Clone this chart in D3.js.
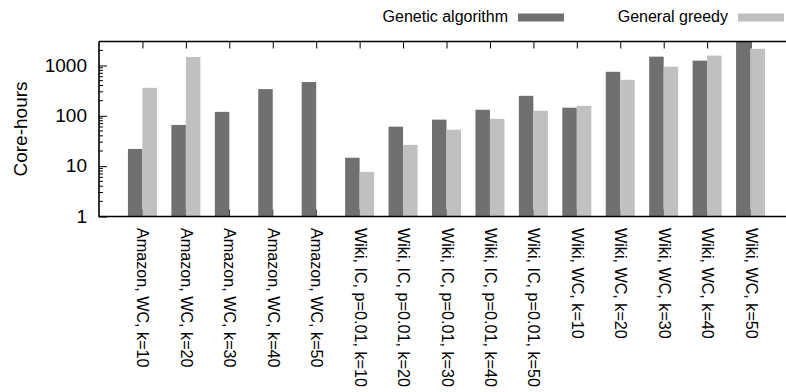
<!DOCTYPE html>
<html>
<head>
<meta charset="utf-8">
<script src="https://cdn.jsdelivr.net/npm/d3@7"></script>
<style>
  body { margin: 0; background: #fff; }
  svg { display: block; font-family: "Liberation Sans", Arial, Helvetica, sans-serif; }
</style>
</head>
<body>
<div id="chart"></div>
<script>
// categories along the x axis
const categories = [
  "Amazon, WC, k=10", "Amazon, WC, k=20", "Amazon, WC, k=30", "Amazon, WC, k=40", "Amazon, WC, k=50",
  "Wiki, IC, p=0.01, k=10", "Wiki, IC, p=0.01, k=20", "Wiki, IC, p=0.01, k=30",
  "Wiki, IC, p=0.01, k=40", "Wiki, IC, p=0.01, k=50",
  "Wiki, WC, k=10", "Wiki, WC, k=20", "Wiki, WC, k=30", "Wiki, WC, k=40", "Wiki, WC, k=50"
];
// core-hours
const geneticValues = [22, 66, 120, 340, 470, 14.7, 61, 84, 132, 250, 145, 750, 1500, 1250, 3200];
const greedyValues = [360, 1480, null, null, null, 7.7, 26.5, 53, 87, 126, 158, 520, 950, 1570, 2150];
const seriesNames = ["Genetic algorithm", "General greedy"];
const yTicks = [1, 10, 100, 1000];

const width = 786, height = 392;
const plotLeft = 99, plotTop = 41.5, plotBottom = 216.5;

const svg = d3.select('#chart').append('svg')
    .attr('width', width)
    .attr('height', height);

const x = d3.scaleLinear().domain([-1, categories.length]).range([plotLeft, 794]);
const y = d3.scaleLog().domain([1, 3000]).range([plotBottom, plotTop]).clamp(true);
const barW = 14.5;
const dark = '#707070', light = '#c0c0c0';

// bottom x ticks (under the bars)
svg.append('g').selectAll('line')
    .data(categories)
    .join('line')
    .attr('x1', (d, i) => x(i)).attr('x2', (d, i) => x(i))
    .attr('y1', plotBottom).attr('y2', plotBottom - 7)
    .attr('stroke', '#000').attr('stroke-width', 1);

// bars
svg.append('g').selectAll('rect')
    .data(geneticValues)
    .join('rect')
    .attr('x', (d, i) => x(i) - barW)
    .attr('y', d => y(d))
    .attr('width', barW)
    .attr('height', d => plotBottom - y(d))
    .attr('fill', dark);

svg.append('g').selectAll('rect')
    .data(greedyValues.map((v, i) => ({v, i})).filter(d => d.v != null))
    .join('rect')
    .attr('x', d => x(d.i))
    .attr('y', d => y(d.v))
    .attr('width', barW)
    .attr('height', d => plotBottom - y(d.v))
    .attr('fill', light);

// y axis with log minor ticks
const minor = [];
for (let p = 1; p < 3000; p *= 10) {
    for (let k = 2; k <= 9; k++) if (p * k <= 3000) minor.push(p * k);
}
svg.append('g').selectAll('line')
    .data(minor)
    .join('line')
    .attr('x1', plotLeft).attr('x2', plotLeft + 4)
    .attr('y1', d => y(d)).attr('y2', d => y(d))
    .attr('stroke', '#000').attr('stroke-width', 1);

const yAxis = svg.append('g')
    .attr('transform', `translate(${plotLeft},0)`)
    .call(d3.axisRight(y).tickValues(yTicks).tickSize(8).tickFormat(''));
yAxis.select('.domain').remove();
yAxis.selectAll('line').attr('stroke', '#000');

svg.append('g').selectAll('text')
    .data(yTicks)
    .join('text')
    .attr('x', plotLeft - 12)
    .attr('y', d => y(d) + 6)
    .attr('text-anchor', 'end')
    .attr('font-size', 19)
    .attr('fill', '#000')
    .text(d => d);

// top x ticks
const xAxisTop = svg.append('g')
    .attr('transform', `translate(0,${plotTop})`)
    .call(d3.axisBottom(x).tickValues(d3.range(categories.length)).tickSize(7).tickFormat(''));
xAxisTop.select('.domain').remove();
xAxisTop.selectAll('line').attr('stroke', '#000');

// frame
svg.append('path')
    .attr('d', `M${plotLeft},${plotTop}H800M${plotLeft},${plotTop}V${plotBottom}H800`)
    .attr('fill', 'none')
    .attr('stroke', '#000')
    .attr('stroke-width', 1.6);

// rotated category labels
svg.append('g').selectAll('text')
    .data(categories)
    .join('text')
    .attr('transform', (d, i) => `translate(${x(i) - 5},228) rotate(90) scale(0.95,1)`)
    .attr('font-size', 17)
    .attr('fill', '#000')
    .text(d => d);

// y label
svg.append('text')
    .attr('transform', `translate(27,${(plotTop + plotBottom) / 2}) rotate(-90)`)
    .attr('text-anchor', 'middle')
    .attr('font-size', 19)
    .attr('fill', '#000')
    .text('Core-hours');

// legend
const legendX = [508, 728];
const legend = svg.append('g').selectAll('g')
    .data(seriesNames)
    .join('g');
legend.append('text')
    .attr('x', (d, i) => legendX[i])
    .attr('y', 22)
    .attr('text-anchor', 'end')
    .attr('font-size', 16)
    .attr('fill', '#000')
    .text(d => d);
legend.append('rect')
    .attr('x', (d, i) => legendX[i] + 10)
    .attr('y', 13.5)
    .attr('width', 46)
    .attr('height', 8)
    .attr('fill', (d, i) => i === 0 ? dark : light);
</script>
</body>
</html>
